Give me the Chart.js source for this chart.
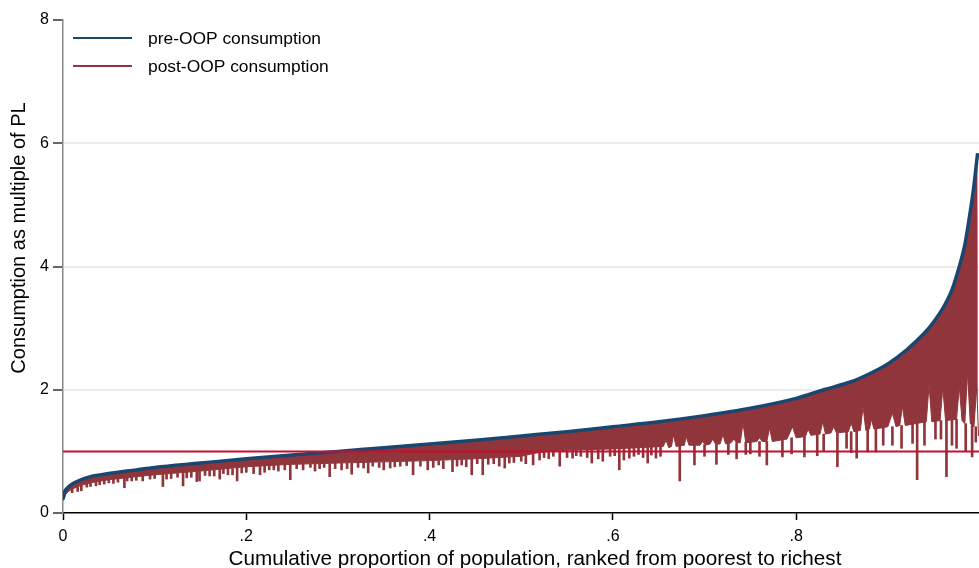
<!DOCTYPE html>
<html>
<head>
<meta charset="utf-8">
<script src="https://cdn.jsdelivr.net/npm/chart.js@4/dist/chart.umd.min.js"></script>
<style>
  body { margin: 0; background: #fff; }
</style>
</head>
<body>
<canvas id="pen-chart" width="979" height="568"></canvas>
<script>
/* Data: population share (x) against consumption / PL (y) */
let preX = [0, 0.002, 0.005, 0.01, 0.02, 0.03, 0.05, 0.08, 0.1, 0.15, 0.2, 0.25, 0.3, 0.35, 0.4, 0.45, 0.5, 0.55, 0.6, 0.65, 0.7, 0.75, 0.8, 0.83, 0.86, 0.88, 0.9, 0.92, 0.94, 0.95, 0.96, 0.97, 0.978, 0.984, 0.989, 0.993, 0.998]
let preY = [0.22, 0.35, 0.41, 0.47, 0.54, 0.59, 0.64, 0.70, 0.74, 0.81, 0.88, 0.94, 1.00, 1.06, 1.12, 1.18, 1.25, 1.32, 1.40, 1.48, 1.58, 1.70, 1.86, 2.00, 2.13, 2.26, 2.42, 2.64, 2.92, 3.10, 3.32, 3.62, 4.00, 4.35, 4.80, 5.20, 5.84]

// post-OOP consumption: lower edge of the solid red band (with its white notches)
let postBodyX = [0, 0.003, 0.006, 0.01, 0.02, 0.03, 0.05, 0.08, 0.10, 0.15, 0.20, 0.25, 0.30, 0.35, 0.40, 0.45, 0.50, 0.515, 0.53, 0.55, 0.60,
  0.655, 0.658, 0.661, 0.664, 0.666, 0.669, 0.678, 0.680, 0.683, 0.695, 0.698, 0.701, 0.706, 0.709, 0.712, 0.717, 0.720, 0.723,
  0.729, 0.732, 0.735, 0.739, 0.742, 0.745, 0.757, 0.760, 0.763, 0.768, 0.771, 0.774, 0.790, 0.796, 0.800, 0.810, 0.813, 0.816,
  0.826, 0.829, 0.832, 0.838, 0.841, 0.844, 0.857, 0.860, 0.863, 0.870, 0.873, 0.876, 0.880, 0.882, 0.885, 0.900, 0.905, 0.909,
  0.913, 0.916, 0.919, 0.942, 0.945, 0.948, 0.957, 0.960, 0.963, 0.975, 0.978, 0.981, 0.984, 0.987, 0.990, 0.994, 0.997, 0.999]
let postBodyY = [0.20, 0.30, 0.35, 0.39, 0.45, 0.49, 0.54, 0.59, 0.62, 0.68, 0.75, 0.79, 0.81, 0.83, 0.85, 0.88, 0.92, 0.97, 1.00, 1.02, 1.04,
  1.08, 1.18, 1.06, 1.08, 1.27, 1.08, 1.10, 1.24, 1.10, 1.10, 1.16, 1.10, 1.12, 1.20, 1.12, 1.12, 1.27, 1.12,
  1.14, 1.20, 1.14, 1.14, 1.46, 1.14, 1.16, 1.22, 1.16, 1.16, 1.38, 1.16, 1.20, 1.40, 1.22, 1.24, 1.36, 1.26,
  1.28, 1.48, 1.28, 1.30, 1.40, 1.30, 1.32, 1.46, 1.32, 1.34, 1.73, 1.34, 1.36, 1.52, 1.36, 1.40, 1.62, 1.40,
  1.42, 1.73, 1.42, 1.48, 2.08, 1.48, 1.50, 2.03, 1.50, 1.52, 2.05, 1.50, 1.45, 2.27, 1.45, 1.40, 2.05, 1.25]

// post-OOP consumption: households pushed further down by OOP spending (needles)
let needleX = [0.016, 0.020, 0.026, 0.036, 0.045, 0.055, 0.067, 0.075, 0.087, 0.095, 0.109, 0.118, 0.131, 0.140, 0.146, 0.149, 0.160, 0.171, 0.180, 0.190,
  0.200, 0.208, 0.215, 0.225, 0.235, 0.248, 0.255, 0.262, 0.270, 0.280, 0.291, 0.297, 0.304, 0.315, 0.322, 0.333, 0.345, 0.357, 0.368, 0.382,
  0.390, 0.398, 0.410, 0.425, 0.435, 0.446, 0.452, 0.458, 0.470, 0.482, 0.492, 0.500, 0.513, 0.525, 0.535, 0.542, 0.550, 0.556, 0.565, 0.577,
  0.589, 0.597, 0.607, 0.618, 0.628, 0.638, 0.647, 0.673, 0.689, 0.713, 0.726, 0.750, 0.768, 0.785, 0.809, 0.823, 0.845, 0.855, 0.866, 0.878,
  0.887, 0.895, 0.927, 0.932, 0.952, 0.964, 0.970, 0.975, 0.992, 0.996,
  0.010, 0.030, 0.040, 0.050, 0.060, 0.070, 0.080, 0.100, 0.113, 0.125, 0.135, 0.155, 0.165, 0.175, 0.185, 0.195, 0.220, 0.230, 0.242, 0.275,
  0.285, 0.310, 0.328, 0.338, 0.350, 0.362, 0.375, 0.404, 0.415, 0.430, 0.440, 0.464, 0.476, 0.487, 0.505, 0.520, 0.530, 0.560, 0.572, 0.584,
  0.602, 0.612, 0.623, 0.633, 0.642, 0.652, 0.700, 0.735, 0.745, 0.760, 0.795, 0.830, 0.860, 0.905, 0.915, 0.940, 0.958, 0.985]
let needleLow = [0.35, 0.36, 0.42, 0.44, 0.47, 0.48, 0.41, 0.52, 0.52, 0.55, 0.43, 0.56, 0.44, 0.58, 0.51, 0.52, 0.60, 0.55, 0.62, 0.52,
  0.66, 0.64, 0.62, 0.70, 0.68, 0.54, 0.72, 0.70, 0.74, 0.72, 0.59, 0.72, 0.70, 0.63, 0.74, 0.65, 0.74, 0.73, 0.76, 0.62,
  0.76, 0.70, 0.78, 0.67, 0.78, 0.62, 0.80, 0.62, 0.80, 0.73, 0.82, 0.84, 0.78, 0.90, 0.92, 0.76, 0.90, 0.89, 0.92, 0.81,
  0.84, 0.92, 0.70, 0.89, 0.95, 0.81, 0.89, 0.52, 0.78, 0.79, 0.95, 0.96, 0.78, 0.91, 0.91, 0.93, 0.75, 1.05, 0.89, 0.99,
  0.99, 1.10, 1.13, 0.54, 1.20, 0.59, 1.10, 1.05, 0.91, 1.15,
  0.33, 0.43, 0.46, 0.49, 0.50, 0.52, 0.53, 0.56, 0.55, 0.58, 0.57, 0.61, 0.60, 0.64, 0.62, 0.65, 0.66, 0.70, 0.70, 0.68,
  0.74, 0.72, 0.73, 0.76, 0.70, 0.75, 0.77, 0.74, 0.72, 0.76, 0.75, 0.79, 0.76, 0.81, 0.80, 0.86, 0.88, 0.93, 0.90, 0.88,
  0.93, 0.86, 0.92, 0.90, 0.94, 0.92, 0.92, 0.88, 0.95, 0.92, 0.96, 1.00, 0.98, 1.10, 1.05, 1.10, 1.20, 1.00]
let needleHigh = [0.44, 0.45, 0.48, 0.51, 0.53, 0.55, 0.57, 0.58, 0.60, 0.61, 0.63, 0.64, 0.66, 0.67, 0.67, 0.68, 0.69, 0.71, 0.72, 0.73,
  0.75, 0.76, 0.76, 0.77, 0.78, 0.79, 0.80, 0.80, 0.80, 0.80, 0.80, 0.81, 0.81, 0.81, 0.82, 0.82, 0.82, 0.83, 0.83, 0.84,
  0.84, 0.85, 0.85, 0.86, 0.87, 0.88, 0.88, 0.89, 0.90, 0.91, 0.92, 0.92, 0.97, 1.00, 1.01, 1.01, 1.02, 1.02, 1.03, 1.03,
  1.04, 1.04, 1.05, 1.05, 1.06, 1.07, 1.08, 1.10, 1.10, 1.12, 1.14, 1.15, 1.16, 1.20, 1.24, 1.28, 1.30, 1.32, 1.34, 1.36,
  1.38, 1.40, 1.44, 1.45, 1.49, 1.50, 1.51, 1.52, 1.42, 1.40,
  0.39, 0.49, 0.52, 0.54, 0.56, 0.58, 0.59, 0.62, 0.63, 0.65, 0.66, 0.68, 0.70, 0.71, 0.72, 0.74, 0.77, 0.78, 0.79, 0.80,
  0.80, 0.81, 0.82, 0.82, 0.83, 0.83, 0.84, 0.85, 0.85, 0.86, 0.87, 0.89, 0.90, 0.91, 0.93, 0.99, 1.00, 1.02, 1.03, 1.04,
  1.05, 1.05, 1.06, 1.07, 1.08, 1.08, 1.11, 1.14, 1.15, 1.16, 1.22, 1.28, 1.32, 1.40, 1.42, 1.48, 1.50, 1.45]

let povertyLine = 1
let seriesNames = ['pre-OOP consumption', 'post-OOP consumption']
let xTicks = [0, 0.2, 0.4, 0.6, 0.8]
let xTickLabels = ['0', '.2', '.4', '.6', '.8']
let yTicks = [0, 2, 4, 6, 8]
let xTitle = 'Cumulative proportion of population, ranked from poorest to richest'
let yTitle = 'Consumption as multiple of PL'

let navy = '#1a476f'
let maroon = '#90353b'
let crimson = '#c8102e'
let fontFamily = '"Liberation Sans", Arial, sans-serif'

Chart.defaults.font.family = fontFamily
Chart.defaults.color = '#000'

let xMax = 0.9995

// Legend inside the plot and the axis titles, drawn on the canvas
let extrasPlugin = {
    id: 'extras',
    afterDraw(chart) {
        let ctx = chart.ctx
        let area = chart.chartArea
        let colors = [navy, maroon]
        ctx.save()
        seriesNames.forEach(function(name, i) {
            let y = area.top + 18 + i * 28
            ctx.strokeStyle = colors[i]
            ctx.lineWidth = 2
            ctx.beginPath()
            ctx.moveTo(area.left + 10, y)
            ctx.lineTo(area.left + 69, y)
            ctx.stroke()
            ctx.fillStyle = '#000'
            ctx.font = '17.4px ' + fontFamily
            ctx.textBaseline = 'middle'
            ctx.textAlign = 'left'
            ctx.fillText(name, area.left + 85, y + 1)
        })
        // x title
        ctx.font = '20.7px ' + fontFamily
        ctx.textAlign = 'center'
        ctx.textBaseline = 'alphabetic'
        ctx.fillText(xTitle, 535, 565)
        // y title
        ctx.font = '20px ' + fontFamily
        ctx.translate(25, 238)
        ctx.rotate(-Math.PI / 2)
        ctx.fillText(yTitle, 0, 0)
        ctx.restore()
    }
}

let ctx = document.querySelector('#pen-chart').getContext('2d')

let penChart = new Chart(ctx, {
    type: 'line',
    data: {
        datasets: [
            {
                label: seriesNames[0],
                data: preX.map((x, i) => ({ x: x, y: preY[i] })),
                borderColor: navy,
                borderWidth: 3.5,
                cubicInterpolationMode: 'monotone',
                pointRadius: 0,
                fill: false,
                order: 1
            },
            {
                label: seriesNames[1],
                data: postBodyX.map((x, i) => ({ x: x, y: postBodyY[i] })),
                borderColor: maroon,
                backgroundColor: maroon,
                borderWidth: 1,
                pointRadius: 0,
                fill: '-1',
                order: 2
            },
            {
                type: 'bar',
                label: 'needles',
                data: needleX.map((x, i) => ({ x: x, y: [needleLow[i], needleHigh[i]] })),
                backgroundColor: maroon,
                borderWidth: 0,
                barThickness: 2,
                order: 3
            },
            {
                label: 'PL',
                data: [{ x: 0, y: povertyLine }, { x: xMax, y: povertyLine }],
                borderColor: crimson,
                borderWidth: 2,
                pointRadius: 0,
                fill: false,
                order: 0
            }
        ]
    },
    options: {
        responsive: false,
        animation: false,
        devicePixelRatio: 1,
        layout: { padding: { top: 20, left: 0, right: 0, bottom: 0 } },
        plugins: {
            legend: { display: false },
            tooltip: { enabled: false }
        },
        scales: {
            x: {
                type: 'linear',
                min: 0,
                max: xMax,
                offset: false,
                afterFit: function(scale) { scale.height = 55 },
                afterBuildTicks: function(axis) { axis.ticks = xTicks.map(v => ({ value: v })) },
                ticks: {
                    font: { size: 16 },
                    padding: 7,
                    maxRotation: 0,
                    callback: function(value) {
                        let i = xTicks.indexOf(value)
                        return i >= 0 ? xTickLabels[i] : ''
                    }
                },
                grid: { offset: false, drawOnChartArea: false, drawTicks: true, tickLength: 7, tickColor: '#000', tickWidth: 1.5 },
                border: { color: '#000', width: 1.5 }
            },
            y: {
                min: 0,
                max: 8,
                afterFit: function(scale) { scale.width = 63 },
                afterBuildTicks: function(axis) { axis.ticks = yTicks.map(v => ({ value: v })) },
                ticks: { font: { size: 16 }, padding: 4 },
                grid: {
                    color: function(c) {
                        return (c.tick && (c.tick.value === 0 || c.tick.value === 8)) ? 'rgba(0,0,0,0)' : '#ebebeb'
                    },
                    lineWidth: 2,
                    tickLength: 10,
                    tickColor: '#333',
                    tickWidth: 1.5
                },
                border: { color: '#888', width: 1.5 }
            }
        }
    },
    plugins: [extrasPlugin]
})
</script>
</body>
</html>
